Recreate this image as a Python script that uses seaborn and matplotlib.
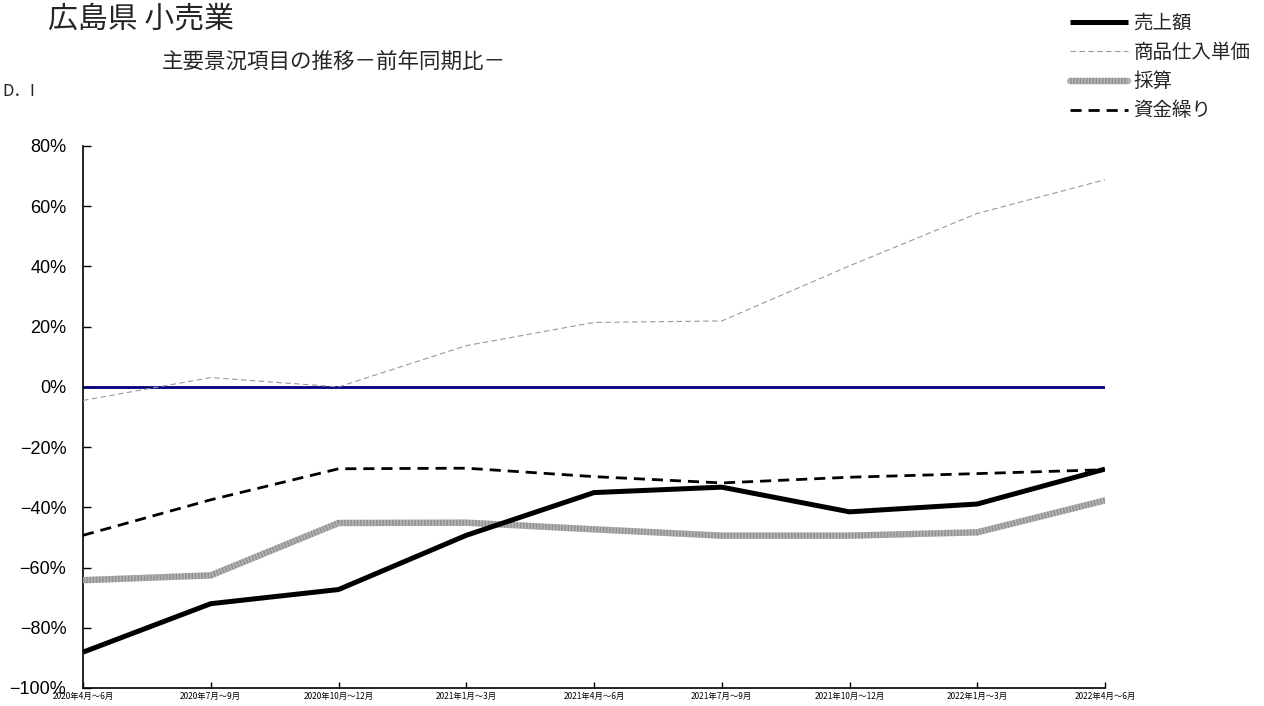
import matplotlib
matplotlib.use("Agg")
import matplotlib.pyplot as plt
from matplotlib.ticker import FixedLocator, FuncFormatter
from matplotlib.legend_handler import HandlerTuple
import seaborn as sns
import pandas as pd

# Quarterly periods
periods = ["2020年4月～6月", "2020年7月～9月", "2020年10月～12月", "2021年1月～3月",
           "2021年4月～6月", "2021年7月～9月", "2021年10月～12月", "2022年1月～3月",
           "2022年4月～6月"]

# D.I values (%), year-on-year
sales = [-88.1, -72.0, -67.3, -49.3, -35.1, -33.3, -41.5, -38.9, -27.3]
purchase_price = [-4.5, 3.1, 0.0, 13.7, 21.4, 21.9, 40.2, 57.6, 68.8]
profitability = [-64.2, -62.6, -45.2, -45.1, -47.3, -49.4, -49.4, -48.3, -37.7]
cash_flow = [-49.3, -37.5, -27.2, -27.0, -29.8, -31.9, -30.0, -28.8, -27.5]

series_names = ["売上額", "商品仕入単価", "採算", "資金繰り"]

sns.set_theme(style="white")
plt.rcParams["font.family"] = ["Liberation Sans", "Noto Sans CJK JP", "DejaVu Sans"]
plt.rcParams["axes.unicode_minus"] = True

fig = plt.figure(figsize=(12.64, 7.06), dpi=100)
ax = fig.add_axes([83 / 1264, 1 - 688 / 706, (1105 - 83) / 1264, (688 - 146) / 706])

pos = list(range(len(periods)))
df = pd.DataFrame({"pos": pos, "sales": sales, "price": purchase_price,
                   "profit": profitability, "cash": cash_flow})

# Zero reference line
ax.axhline(0, color="#000080", lw=2.0, zorder=1)

h_price = sns.lineplot(data=df, x="pos", y="price", ax=ax, color="#999999", lw=0.8,
                       linestyle=(0, (5, 3)), zorder=3).lines[-1]
h_profit_base = sns.lineplot(data=df, x="pos", y="profit", ax=ax, color="#b4b4b4",
                             lw=4.6, zorder=4).lines[-1]
h_profit_tex = sns.lineplot(data=df, x="pos", y="profit", ax=ax, color="#6a6a6a",
                            lw=4.6, linestyle=(0, (0.25, 0.25)), alpha=0.45,
                            zorder=4).lines[-1]
h_cash = sns.lineplot(data=df, x="pos", y="cash", ax=ax, color="black", lw=2.0,
                      linestyle=(0, (4, 2.5)), zorder=5).lines[-1]
h_sales = sns.lineplot(data=df, x="pos", y="sales", ax=ax, color="black", lw=3.6,
                       solid_capstyle="butt", zorder=6).lines[-1]

ax.set_xlim(0, len(periods) - 1)
ax.set_ylim(-100, 80)
ax.set_xlabel("")
ax.set_ylabel("")

ax.xaxis.set_major_locator(FixedLocator(pos))
ax.set_xticklabels(periods, fontsize=6.0, family=["Noto Sans CJK JP"])
ax.yaxis.set_major_locator(FixedLocator(range(-100, 81, 20)))
ax.yaxis.set_major_formatter(FuncFormatter(lambda v, p: f"{v:.0f}%".replace("-", "\u2212")))
ax.tick_params(axis="y", labelsize=13, direction="in", length=6, width=1, pad=12,
               left=True, colors="black")
ax.tick_params(axis="x", direction="in", length=4, width=1, pad=3, bottom=True,
               colors="black")

for s in ["top", "right"]:
    ax.spines[s].set_visible(False)
for s in ["left", "bottom"]:
    ax.spines[s].set_color("black")
    ax.spines[s].set_linewidth(1.2)

# Titles and unit label
fig.text(48 / 1264, 1 - 19 / 706, "広島県 小売業", fontsize=21.5, va="center", ha="left",
         family=["Noto Sans CJK JP"])
fig.text(162 / 1264, 1 - 62 / 706, "主要景況項目の推移－前年同期比－", fontsize=15.5,
         va="center", ha="left", family=["Noto Sans CJK JP"])
fig.text(2 / 1264, 1 - 91 / 706, "D．I", fontsize=12, va="center", ha="left",
         family=["Noto Sans CJK JP"])

leg = fig.legend([h_sales, h_price, (h_profit_base, h_profit_tex), h_cash], series_names,
                 handler_map={tuple: HandlerTuple(ndivide=1, pad=0)},
                 loc="upper left", bbox_to_anchor=(1070 / 1264, 1 - 13 / 706),
                 frameon=False, borderaxespad=0, borderpad=0, handlelength=3.0,
                 handletextpad=0.25, labelspacing=0.42,
                 prop={"family": "Noto Sans CJK JP", "size": 14})

fig.savefig("out.png", dpi=100, facecolor="white")
